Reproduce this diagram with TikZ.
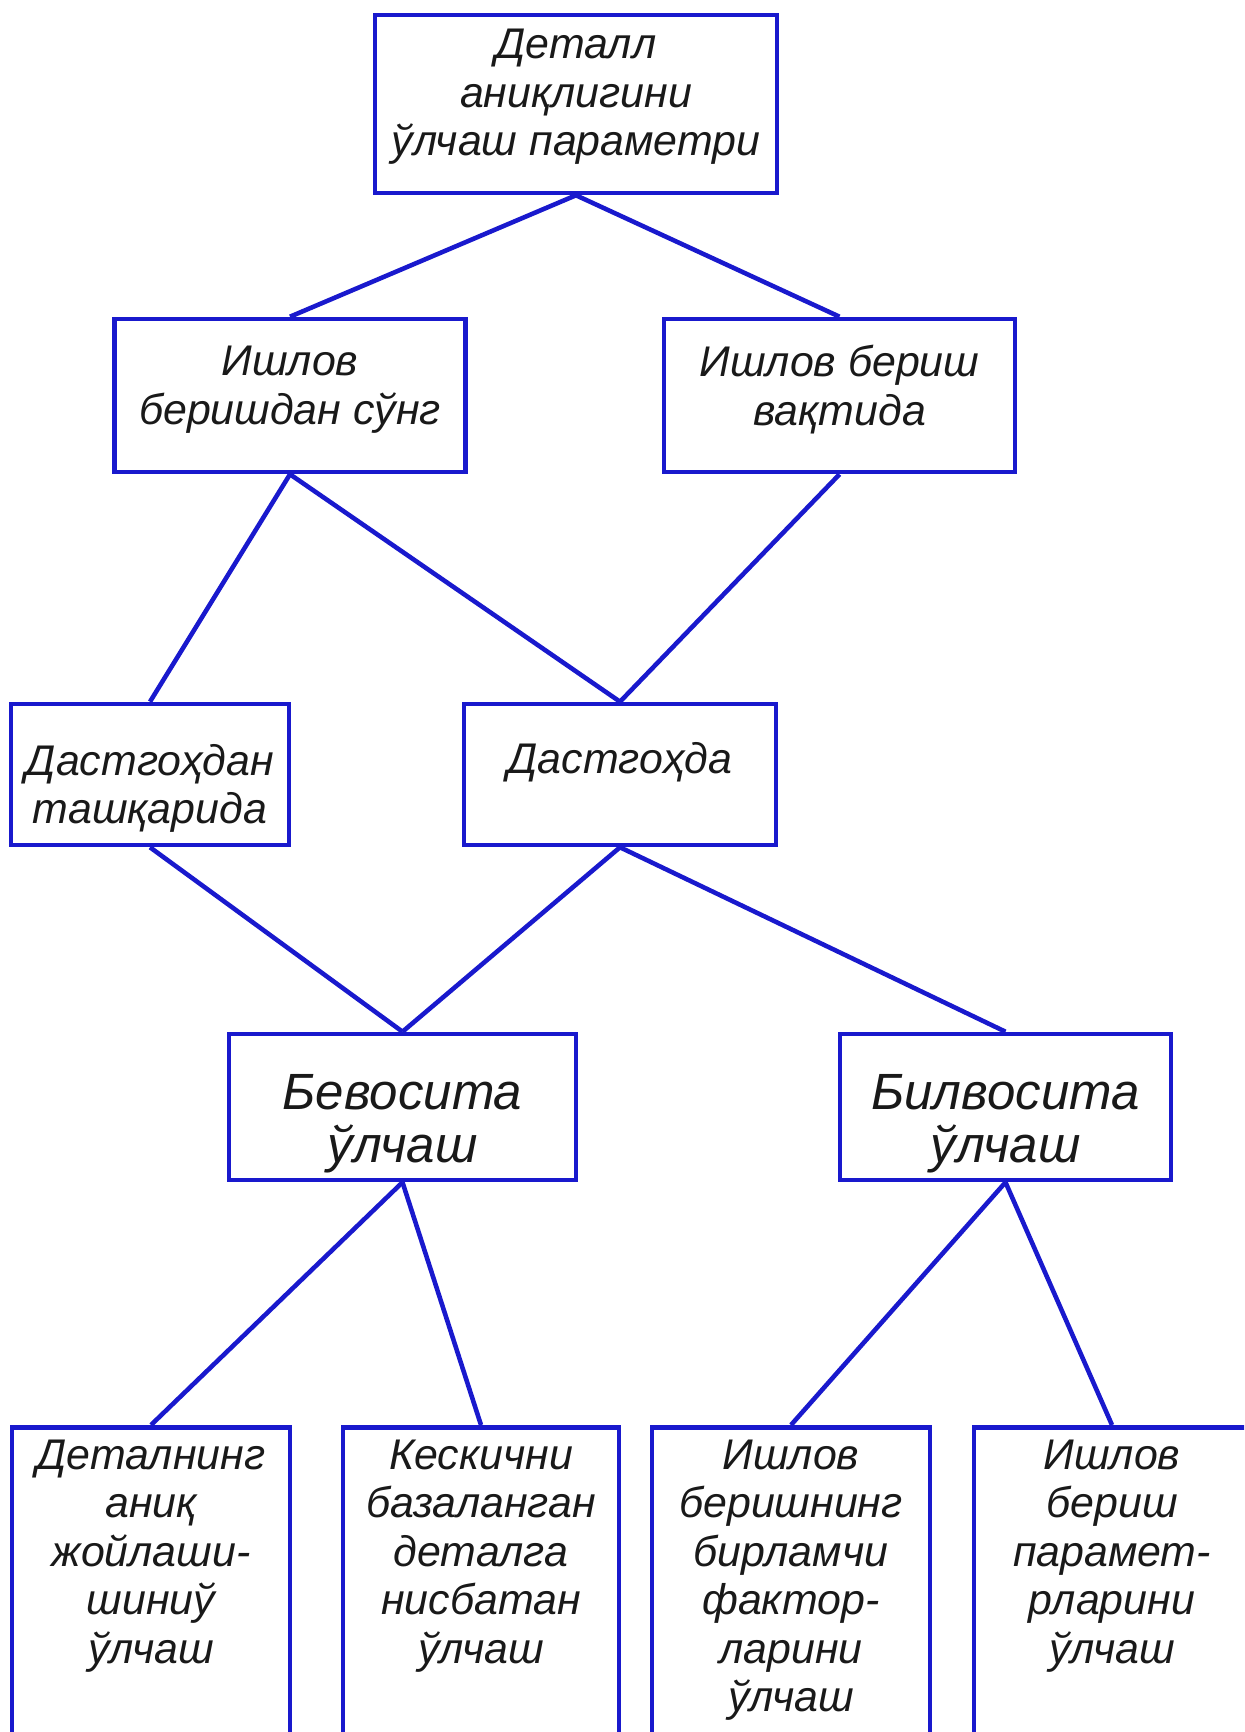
\documentclass[tikz,border=0pt]{standalone}
\usepackage{fontspec}
\setmainfont{Liberation Sans}
\usetikzlibrary{positioning}
\definecolor{edgeblue}{RGB}{25,25,205}
\definecolor{inkgray}{RGB}{25,25,25}

\begin{document}
\begin{tikzpicture}
    % Define styles
    \tikzstyle{box}=[draw=edgeblue, line width=1.3pt, rectangle, inner sep=0pt]
    \tikzstyle{txt}=[inner sep=0pt, align=center, text=inkgray, font=\itshape\fontsize{12.2}{13.8}\selectfont]
    \tikzstyle{bigtxt}=[txt, font=\itshape\fontsize{14.5}{15.2}\selectfont]
    \tikzstyle{link}=[edgeblue, line width=1.3pt]

    \useasboundingbox (0,0) rectangle (12.44,-17.32);
    \clip (0,0) rectangle (12.44,-17.32);

    % Top - parameter
    \node[box, minimum width=4.02cm, minimum height=1.78cm] (param) at (5.76,-1.04) {};
    \node[txt] (paramtext) at ([yshift=0.07cm]param.center) {Деталл\\аниқлигини\\ўлчаш параметри};

    % Second row - when
    \node[box, minimum width=3.51cm, minimum height=1.53cm] (after) at (2.90,-3.955) {};
    \node[box, minimum width=3.51cm, minimum height=1.53cm] (during) at (8.395,-3.955) {};
    \node[txt] (aftertext) at ([yshift=0.06cm]after.center) {Ишлов\\беришдан сўнг};
    \node[txt] (duringtext) at ([yshift=0.06cm]during.center) {Ишлов бериш\\вақтида};

    % Third row - where
    \node[box, minimum width=2.78cm, minimum height=1.41cm] (outside) at (1.50,-7.745) {};
    \node[box, minimum width=3.12cm, minimum height=1.41cm] (onmachine) at (6.20,-7.745) {};
    \node[txt] (outsidetext) at ([yshift=-0.14cm]outside.center) {Дастгоҳдан\\ташқарида};
    \node[txt] (onmachinetext) at ([yshift=0.12cm]onmachine.center) {Дастгоҳда};

    % Fourth row - method
    \node[box, minimum width=3.47cm, minimum height=1.46cm] (direct) at (4.025,-11.07) {};
    \node[box, minimum width=3.31cm, minimum height=1.46cm] (indirect) at (10.055,-11.07) {};
    \node[bigtxt] (directtext) at ([yshift=-0.17cm]direct.center) {Бевосита\\ўлчаш};
    \node[bigtxt] (indirecttext) at ([yshift=-0.17cm]indirect.center) {Билвосита\\ўлчаш};

    % Bottom row - boxes run off the page
    \node[box, anchor=north, minimum width=2.78cm, minimum height=3.5cm] (b1) at (1.51,-14.25) {};
    \node[box, anchor=north, minimum width=2.76cm, minimum height=3.5cm] (b2) at (4.81,-14.25) {};
    \node[box, anchor=north, minimum width=2.78cm, minimum height=3.5cm] (b3) at (7.91,-14.25) {};
    \node[box, anchor=north, minimum width=2.76cm, minimum height=3.5cm] (b4) at (11.12,-14.25) {};
    \node[txt, below=0.14cm of b1.north] (b1text) {Деталнинг\\аниқ\\жойлаши-\\шиниў\\ўлчаш};
    \node[txt, below=0.14cm of b2.north] (b2text) {Кескични\\базаланган\\деталга\\нисбатан\\ўлчаш};
    \node[txt, below=0.14cm of b3.north] (b3text) {Ишлов\\беришнинг\\бирламчи\\фактор-\\ларини\\ўлчаш};
    \node[txt, below=0.14cm of b4.north] (b4text) {Ишлов\\бериш\\парамет-\\рларини\\ўлчаш};

    % Connectors
    \draw[link] (param.south) -- (after.north);
    \draw[link] (param.south) -- (during.north);
    \draw[link] (after.south) -- (outside.north);
    \draw[link] (after.south) -- (onmachine.north);
    \draw[link] (during.south) -- (onmachine.north);
    \draw[link] (outside.south) -- (direct.north);
    \draw[link] (onmachine.south) -- (direct.north);
    \draw[link] (onmachine.south) -- (indirect.north);
    \draw[link] (direct.south) -- (b1.north);
    \draw[link] (direct.south) -- (b2.north);
    \draw[link] (indirect.south) -- (b3.north);
    \draw[link] (indirect.south) -- (b4.north);
\end{tikzpicture}
\end{document}
